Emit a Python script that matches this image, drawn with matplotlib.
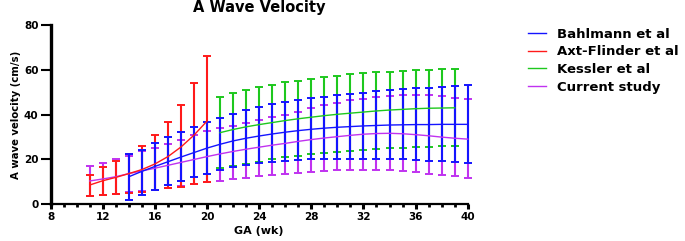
import matplotlib
matplotlib.use("Agg")
import matplotlib.pyplot as plt
import numpy as np

plt.rcParams['font.family'] = ['DejaVu Sans']
plt.rcParams['font.weight'] = 'bold'

# 各组数据: 孕周, 均值, 下限, 上限
wk_bahl = list(range(14, 41))
mean_bahl = [12.2, 14.6, 16.8, 18.9, 21.0, 23.0, 25.0, 26.7, 28.2, 29.4, 30.4, 31.3, 32.1, 32.8,
             33.4, 33.9, 34.3, 34.6, 34.9, 35.1, 35.3, 35.4, 35.5, 35.5, 35.6, 35.6, 35.6]
low_bahl = [1.8, 4.2, 6.3, 8.5, 10.3, 12.2, 13.6, 15.3, 16.6, 17.5, 18.2, 18.9, 19.3, 19.7,
            19.9, 20.1, 20.2, 20.3, 20.3, 20.3, 20.2, 20.0, 19.7, 19.4, 19.0, 18.6, 18.4]
up_bahl = [22.2, 24.3, 27.1, 29.8, 32.3, 34.6, 36.7, 38.6, 40.4, 41.9, 43.2, 44.5, 45.6, 46.4,
           47.2, 48.0, 48.7, 49.2, 49.8, 50.3, 50.8, 51.3, 51.7, 52.0, 52.4, 52.7, 53.0]

wk_axt = list(range(11, 21))
mean_axt = [8.5, 10.4, 11.9, 13.6, 15.4, 17.9, 21.2, 25.5, 30.8, 37.1]
low_axt = [3.4, 3.9, 4.4, 5.0, 5.5, 6.3, 7.0, 7.8, 8.8, 9.7]
up_axt = [12.8, 16.4, 19.3, 22.2, 26.0, 30.8, 36.8, 44.3, 54.0, 66.0]

wk_kess = list(range(21, 40))
mean_kess = [31.9, 33.3, 34.5, 35.5, 36.4, 37.3, 38.1, 38.8, 39.5, 40.1, 40.6, 41.1, 41.6,
             42.0, 42.3, 42.6, 42.8, 42.9, 43.0]
low_kess = [16.0, 17.0, 17.9, 18.9, 19.9, 20.8, 21.6, 22.2, 22.8, 23.3, 23.8, 24.2, 24.6,
            24.9, 25.2, 25.5, 25.7, 25.8, 25.9]
up_kess = [47.7, 49.6, 51.0, 52.2, 53.4, 54.4, 55.2, 56.0, 56.6, 57.3, 57.9, 58.4, 58.8,
           59.2, 59.6, 59.9, 60.1, 60.2, 60.3]

wk_cur = list(range(11, 41))
mean_cur = [10.3, 11.2, 12.2, 13.6, 14.8, 16.0, 17.3, 18.6, 19.9, 21.2, 22.4, 23.5, 24.5, 25.4,
            26.3, 27.1, 28.0, 28.8, 29.5, 30.1, 30.7, 31.2, 31.5, 31.6, 31.4, 31.0, 30.5, 29.9,
            29.4, 29.0]
low_cur = [3.8, 4.2, 4.6, 5.3, 5.8, 6.4, 7.2, 8.0, 8.8, 9.7, 10.4, 11.2, 11.8, 12.3, 12.8,
           13.3, 13.7, 14.3, 14.8, 15.1, 15.3, 15.4, 15.3, 15.1, 14.8, 14.3, 13.6, 13.0, 12.3,
           11.8]
up_cur = [17.0, 18.5, 20.0, 21.6, 23.5, 25.2, 26.8, 28.5, 30.8, 32.5, 33.8, 35.0, 36.4, 37.6,
          39.0, 40.0, 41.2, 43.0, 44.3, 45.3, 46.3, 47.1, 47.8, 48.3, 48.6, 48.6, 48.5, 48.2,
          47.4, 46.8]

c_blue = '#1414ff'
c_red = '#ff1a1a'
c_green = '#1ec81e'
c_purple = '#c032f0'

fig = plt.figure(figsize=(6.85, 2.41), dpi=100)
ax = fig.add_axes([0.074, 0.1535, 0.6088, 0.7427])

series = [
    (wk_kess, mean_kess, low_kess, up_kess, c_green, 'Kessler et al'),
    (wk_cur, mean_cur, low_cur, up_cur, c_purple, 'Current study'),
    (wk_axt, mean_axt, low_axt, up_axt, c_red, 'Axt-Flinder et al'),
    (wk_bahl, mean_bahl, low_bahl, up_bahl, c_blue, 'Bahlmann et al'),
]
handles = {}
for wk, m, lo, up, col, name in series:
    m = np.array(m)
    err = [m - np.array(lo), np.array(up) - m]
    ax.errorbar(wk, m, yerr=err, fmt='none', ecolor=col, elinewidth=1.5,
                capsize=3.2, capthick=1.4, clip_on=False)
for wk, m, lo, up, col, name in series:
    ln, = ax.plot(wk, m, color=col, lw=1.0, label=name, clip_on=False)
    handles[name] = ln

ax.set_xlim(8, 40)
ax.set_ylim(0, 80)
ax.set_xticks(np.arange(8, 41, 4))
ax.set_xticks(np.arange(8, 41, 1), minor=True)
ax.set_yticks([0, 20, 40, 60, 80])
for s in ['top', 'right']:
    ax.spines[s].set_visible(False)
ax.spines['left'].set_linewidth(2.4)
ax.spines['bottom'].set_linewidth(1.6)
ax.tick_params(axis='x', which='major', length=3.8, width=2.2, labelsize=7.5, pad=2)
ax.tick_params(axis='x', which='minor', length=2.2, width=2.0)
ax.tick_params(axis='y', which='major', length=7.2, width=1.5, labelsize=7.5, pad=1.5)

ax.set_xlabel('GA (wk)', fontsize=8, fontweight='bold', labelpad=3)
ax.set_ylabel('A wave velocity (cm/s)', fontsize=7.3, fontweight='bold', labelpad=2)
fig.text(259.5 / 685, 1 - 7.5 / 241, 'A Wave Velocity', fontsize=10.5, fontweight='bold',
         ha='center', va='center')

order = ['Bahlmann et al', 'Axt-Flinder et al', 'Kessler et al', 'Current study']
fig.legend([handles[k] for k in order], order, loc='upper left',
           bbox_to_anchor=(528 / 685, 1 - 27.5 / 241), frameon=False, fontsize=9.5,
           handlelength=1.4, handletextpad=0.8, labelspacing=0.36,
           borderpad=0, borderaxespad=0)

fig.savefig('out.png', dpi=100)
